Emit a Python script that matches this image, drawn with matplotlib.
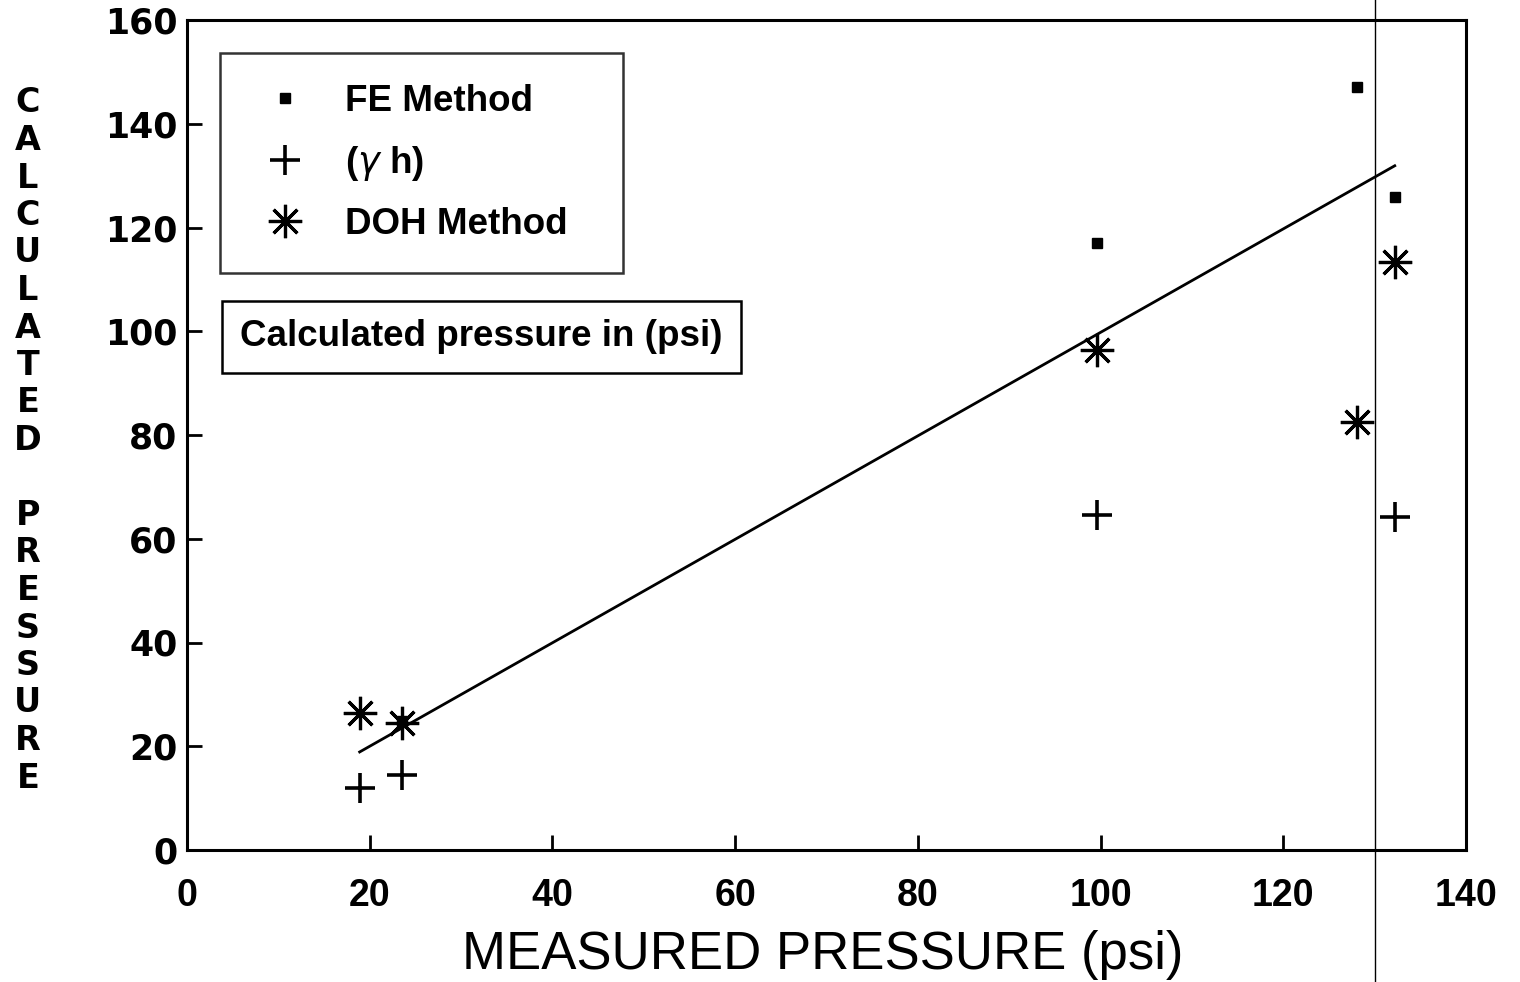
import matplotlib
matplotlib.use("Agg")
import matplotlib.pyplot as plt

plt.rcParams['font.family'] = ['Liberation Sans', 'DejaVu Sans']

# ---- data ----
fe_x = [23.5, 99.6, 128.1, 132.2]
fe_y = [24.8, 117.0, 147.1, 125.9]
gh_x = [18.9, 23.5, 99.6, 132.2]
gh_y = [12.0, 14.5, 64.6, 64.2]
doh_x = [18.9, 23.5, 99.6, 128.1, 132.2]
doh_y = [26.4, 24.5, 96.4, 82.5, 113.4]
fit_x = [18.9, 132.2]
fit_y = [18.9, 131.9]
artifact_x = 130.0

x_ticks = [0, 20, 40, 60, 80, 100, 120, 140]
y_ticks = [0, 20, 40, 60, 80, 100, 120, 140, 160]
x_label = "MEASURED PRESSURE (psi)"
y_label = "CALCULATED PRESSURE"
labels = ["FE Method", "($\\gamma$ h)", "DOH Method"]
box_text = "Calculated pressure in (psi)"

fig = plt.figure(figsize=(15.2, 9.82), dpi=100)
ax = fig.add_axes([187/1520, 1-850/982, (1466-187)/1520, (850-20)/982])

h_fe, = ax.plot(fe_x, fe_y, ls='none', marker='s', ms=7, color='black')
h_gh, = ax.plot(gh_x, gh_y, ls='none', marker='+', ms=22, mew=2.6, color='black')
h_doh, = ax.plot(doh_x, doh_y, ls='none', marker=(8, 2, 0), ms=24, mew=2.3, color='black')
ax.plot(fit_x, fit_y, color='black', lw=2.0)

ax.axvline(artifact_x, ymin=-0.16, ymax=1.03, clip_on=False, color='black', lw=1.0)

ax.set_xlim(0, 140)
ax.set_ylim(0, 160)
ax.set_xticks(x_ticks)
ax.set_yticks(y_ticks)
ax.set_xticklabels([str(v) for v in x_ticks], fontsize=27, fontweight='bold')
ax.set_yticklabels([str(v) for v in y_ticks], fontsize=25, fontweight='bold',
                   family='DejaVu Sans')
ax.tick_params(axis='both', direction='in', length=11, width=2)
ax.tick_params(axis='x', pad=20)
ax.tick_params(axis='y', pad=7)
for s in ax.spines.values():
    s.set_linewidth(2.2)

ax.set_xlabel(x_label, fontsize=38)
ax.xaxis.set_label_coords(0.497, -0.096)

# stacked vertical y label
yy = 103
for ch in y_label:
    if ch != ' ':
        fig.text(28/1520, 1 - yy/982, ch, fontsize=24, fontweight='bold',
                 family='DejaVu Sans', ha='center', va='center')
    yy += 37.5

leg = ax.legend([h_fe, h_gh, h_doh], labels, loc='upper left', mode='expand',
                bbox_to_anchor=((220-187)/1279, (850-272)/830, 403/1279, 219/830),
                prop={'size': 26.5, 'weight': 'bold'}, frameon=True, fancybox=False,
                borderpad=0.85, handlelength=1.85, handletextpad=0.7,
                labelspacing=0.66, borderaxespad=0, markerscale=1.0)
leg.get_frame().set_edgecolor('black')
leg.get_frame().set_linewidth(1.8)

ax.text((240-187)/1279, (850-337)/830, box_text, transform=ax.transAxes,
        fontsize=26.5, fontweight='bold', ha='left', va='center',
        bbox=dict(boxstyle='square,pad=0.5', fc='white', ec='black', lw=1.8))

fig.savefig('out.png', dpi=100)
